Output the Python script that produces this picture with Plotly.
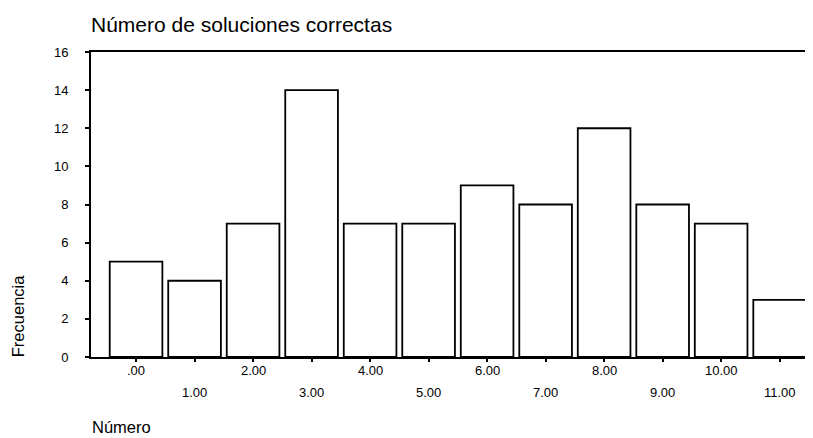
import plotly.graph_objects as go

categories = [0, 1, 2, 3, 4, 5, 6, 7, 8, 9, 10, 11]
tick_labels = [".00", "1.00", "2.00", "3.00", "4.00", "5.00", "6.00", "7.00", "8.00", "9.00", "10.00", "11.00"]
frequencies = [5, 4, 7, 14, 7, 7, 9, 8, 12, 8, 7, 3]
y_ticks = [0, 2, 4, 6, 8, 10, 12, 14, 16]

FONT = "Liberation Sans, Arial, sans-serif"

fig = go.Figure()
fig.add_trace(go.Bar(
    x=categories, y=frequencies, width=0.9,
    marker=dict(color="white", line=dict(color="black", width=1.8)),
    showlegend=False,
))

annotations = []
for c, lab in zip(categories, tick_labels):
    annotations.append(dict(
        x=c, y=0, xref="x", yref="y", text=lab, showarrow=False,
        yshift=-13 if c % 2 == 0 else -35, yanchor="middle",
        font=dict(family=FONT, size=13, color="black"),
    ))
annotations.append(dict(
    x=-0.101, y=0.134, xref="paper", yref="paper", text="Frecuencia", textangle=-90,
    showarrow=False, xanchor="center", yanchor="middle",
    font=dict(family=FONT, size=16.5, color="black"),
))
annotations.append(dict(
    x=-0.001, y=-0.229, xref="paper", yref="paper", text="Número",
    showarrow=False, xanchor="left", yanchor="middle",
    font=dict(family=FONT, size=16.5, color="black"),
))

fig.update_layout(
    width=805, height=430,
    margin=dict(l=83, r=0, t=44, b=81),
    paper_bgcolor="white", plot_bgcolor="white",
    title=dict(text="Número de soluciones correctas", x=83/805, xanchor="left",
               y=1 - 17/430, yanchor="middle",
               font=dict(family=FONT, size=21, color="black")),
    annotations=annotations,
    bargap=0.1,
)
fig.update_xaxes(
    range=[-0.77, 11.57], tickvals=categories, ticktext=[""] * len(categories),
    showline=True, linecolor="black", linewidth=2, mirror=True,
    ticks="outside", ticklen=3, tickwidth=2, tickcolor="black",
    showgrid=False, zeroline=False,
)
fig.update_yaxes(
    range=[0, 16], tickvals=y_ticks,
    showline=True, linecolor="black", linewidth=2,
    ticks="outside", ticklen=4, tickwidth=2, tickcolor="black",
    ticklabelstandoff=14,
    tickfont=dict(family=FONT, size=13, color="black"),
    showgrid=False, zeroline=False,
)

fig.write_html("out.html")
